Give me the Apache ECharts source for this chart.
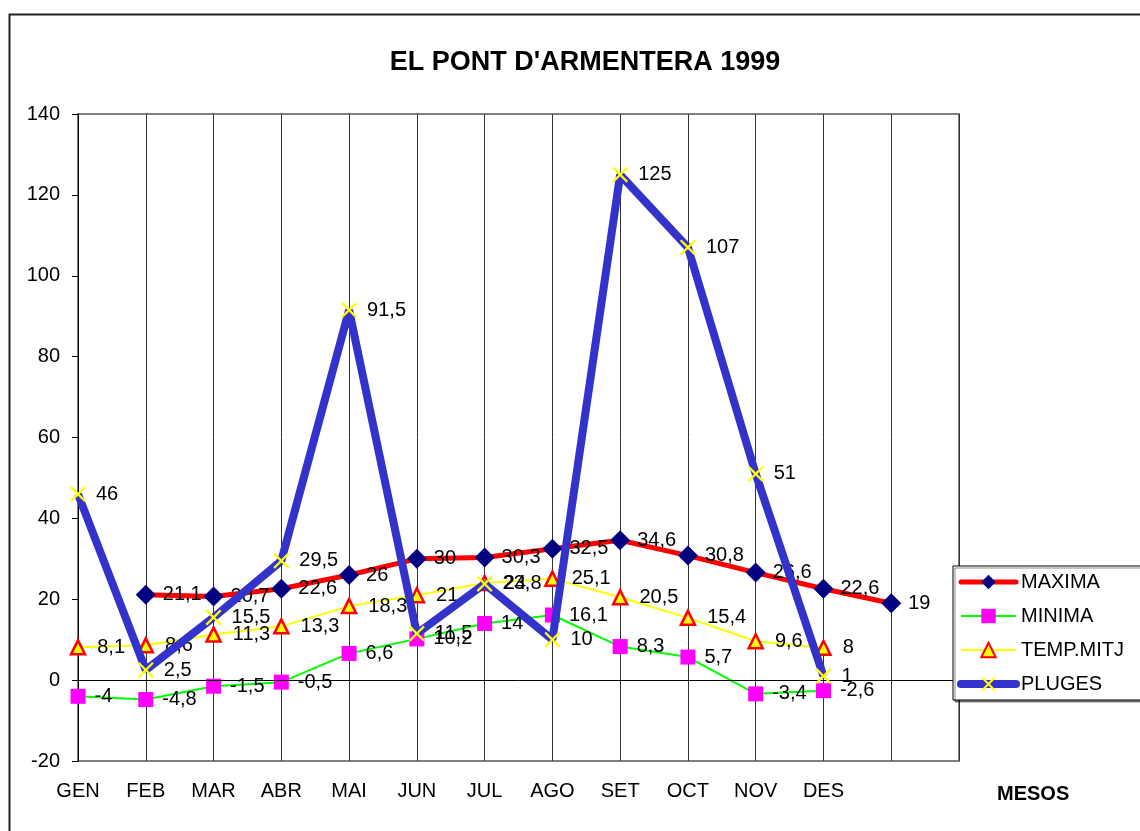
<!DOCTYPE html>
<html>
<head>
<meta charset="utf-8">
<script src="https://cdn.jsdelivr.net/npm/echarts@6/dist/echarts.min.js"></script>
<style>
  html, body { margin: 0; padding: 0; background: #fff; }
  #chart { width: 1140px; height: 831px; }
</style>
</head>
<body>
<div id="chart"></div>
<script>
// ---- data ----
const categories = ['GEN','FEB','MAR','ABR','MAI','JUN','JUL','AGO','SET','OCT','NOV','DES','',''];
const maxima = [null, 21.1, 20.7, 22.6, 26, 30, 30.3, 32.5, 34.6, 30.8, 26.6, 22.6, 19, null];
const minima = [-4, -4.8, -1.5, -0.5, 6.6, 10.2, 14, 16.1, 8.3, 5.7, -3.4, -2.6];
const tempMitj = [8.1, 8.6, 11.3, 13.3, 18.3, 21, 24, 25.1, 20.5, 15.4, 9.6, 8];
const pluges = [46, 2.5, 15.5, 29.5, 91.5, 11.5, 23.8, 10, 125, 107, 51, 1];
const yTicks = { min: -20, max: 140, interval: 20 };

const FONT = '"Liberation Sans", Arial, sans-serif';
const xPath = 'path://M0,2 L2,0 L10,8 L18,0 L20,2 L12,10 L20,18 L18,20 L10,12 L2,20 L0,18 L8,10 Z';

function fmt(p) {
  if (p.value === null || p.value === undefined) return '';
  return String(p.value).replace('.', ',');
}
function lbl(dist) {
  return { show: true, position: 'right', distance: dist, formatter: fmt,
           color: '#000', fontSize: 20, fontFamily: FONT };
}

const chart = echarts.init(document.getElementById('chart'), null, { renderer: 'canvas' });
chart.setOption({
  animation: false,
  backgroundColor: '#fff',
  textStyle: { fontFamily: FONT },
  title: {
    text: "EL PONT D'ARMENTERA 1999",
    left: 580, top: 44, textAlign: 'center',
    textStyle: { fontSize: 27, fontWeight: 'bold', color: '#000', fontFamily: FONT }
  },
  graphic: [
    { type: 'rect', left: 7, top: 12, shape: { width: 1200, height: 900 },
      style: { fill: 'none', stroke: '#222', lineWidth: 2 }, z: -10 },
    { type: 'text', left: 997, top: 784,
      style: { text: 'MESOS', fill: '#000', font: 'bold 20px ' + FONT } }
  ],
  grid: {
    left: 78, right: 181, top: 114, bottom: 70,
    show: true, borderColor: '#808080', borderWidth: 2, backgroundColor: '#fff'
  },
  legend: {
    orient: 'vertical', left: 953, top: 566,
    padding: [6, 40, 6, 4],
    itemWidth: 55, itemHeight: 18, itemGap: 14,
    backgroundColor: '#fff', borderColor: '#000', borderWidth: 1,
    shadowColor: 'rgba(0,0,0,0.45)', shadowOffsetX: 2, shadowOffsetY: 2, shadowBlur: 0,
    textStyle: { fontSize: 20, color: '#000', fontFamily: FONT },
    z: 20,
    data: [
      { name: 'MAXIMA', lineStyle: { width: 5, cap: 'round' } },
      { name: 'MINIMA', lineStyle: { width: 2 } },
      { name: 'TEMP.MITJ', lineStyle: { width: 2 } },
      { name: 'PLUGES', lineStyle: { width: 8, cap: 'round' } }
    ]
  },
  xAxis: {
    type: 'category', data: categories, boundaryGap: false,
    axisLine: { show: false, onZero: false },
    axisTick: { show: false },
    axisLabel: { interval: 0, margin: 20, fontSize: 20, color: '#000', fontFamily: FONT },
    splitLine: { show: true, interval: 0, lineStyle: { color: '#333', width: 1 } }
  },
  yAxis: {
    type: 'value', min: yTicks.min, max: yTicks.max, interval: yTicks.interval,
    axisLine: { show: true, lineStyle: { color: '#000', width: 1 } },
    axisTick: { show: true, length: 6, lineStyle: { color: '#000' } },
    axisLabel: { margin: 18, fontSize: 20, color: '#000', fontFamily: FONT },
    splitLine: { show: false }
  },
  series: [
    {
      name: 'MAXIMA', type: 'line', data: maxima, z: 2,
      lineStyle: { color: '#FF0000', width: 5 },
      itemStyle: { color: '#000080' },
      symbol: 'diamond', symbolSize: 20, showAllSymbol: true,
      label: lbl(7),
      markLine: {
        silent: true, symbol: 'none', animation: false,
        label: { show: false },
        lineStyle: { color: '#000', width: 1, type: 'solid' },
        data: [{ yAxis: 0 }]
      }
    },
    {
      name: 'MINIMA', type: 'line', data: minima, z: 3,
      lineStyle: { color: '#00FF00', width: 2 },
      itemStyle: { color: '#FF00FF' },
      symbol: 'rect', symbolSize: 15, showAllSymbol: true,
      label: lbl(9)
    },
    {
      name: 'TEMP.MITJ', type: 'line', data: tempMitj, z: 4,
      lineStyle: { color: '#FFFF00', width: 2 },
      itemStyle: { color: '#FFFF00', borderColor: '#FF0000', borderWidth: 2.5 },
      symbol: 'triangle', symbolSize: 14, showAllSymbol: true,
      label: lbl(11)
    },
    {
      name: 'PLUGES', type: 'line', data: pluges, z: 5,
      lineStyle: { color: '#3333CC', width: 8 },
      itemStyle: { color: '#FFFF00' },
      symbol: xPath, symbolSize: 16, showAllSymbol: true,
      label: lbl(10)
    }
  ]
});
</script>
</body>
</html>
